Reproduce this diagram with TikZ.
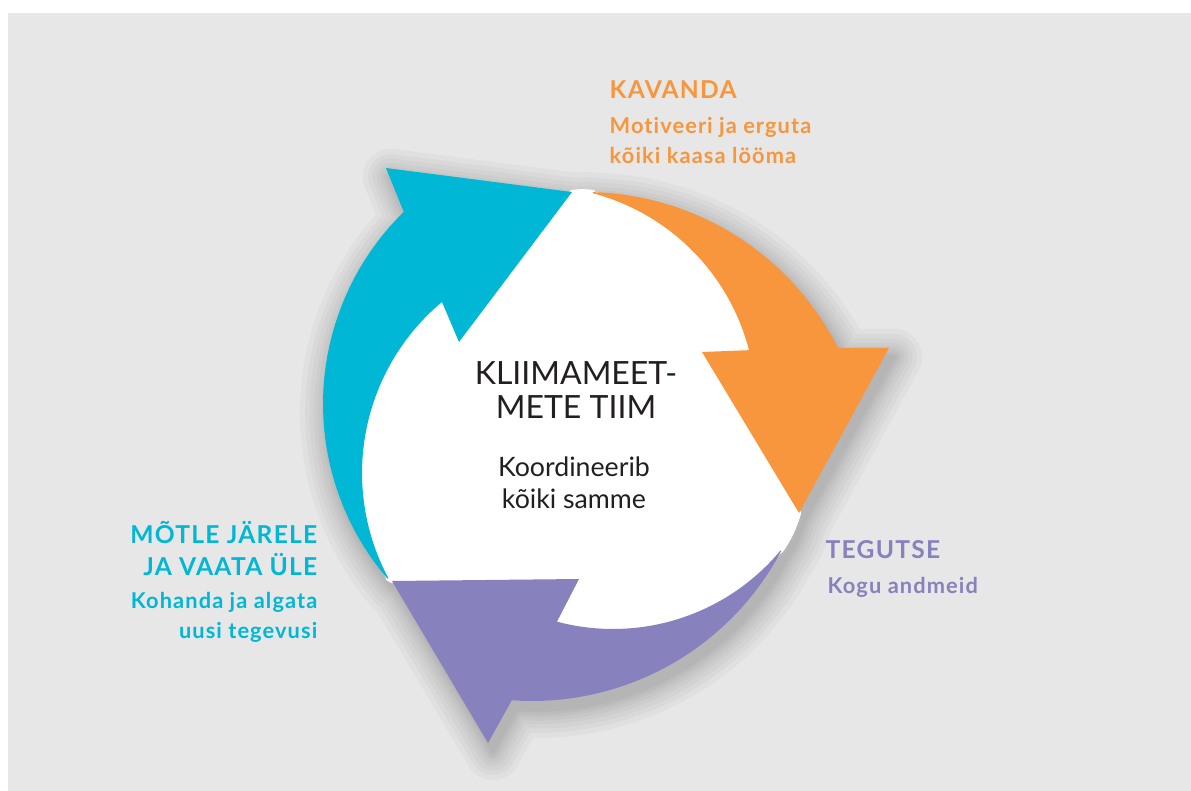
\documentclass[tikz,border=0pt]{standalone}
\usepackage{fontspec}
\setmainfont{Lato}
\newfontfamily\steplabelfont{Lato}[LetterSpace=5, Ligatures=NoCommon]
\newfontfamily\stepnotefont{Lato}[LetterSpace=5, Ligatures=NoCommon]
\usetikzlibrary{positioning}

\definecolor{bgGray}{RGB}{231,231,231}
\definecolor{cycleCyan}{RGB}{0,183,214}
\definecolor{cycleOrange}{RGB}{247,150,61}
\definecolor{cyclePurple}{RGB}{135,129,189}
\definecolor{inkDark}{RGB}{35,31,32}

% the three arrows and the white middle, in pixel units (y downwards)
\newcommand{\cyanarrow}{plot[domain=139.5:225.6, samples=40] ({592+269*cos(\x)}, {404+269*sin(\x)})
  -- (386,168) -- (572,192) -- (459,342)
  -- plot[domain=230.1:151.9, samples=40] ({585+223*cos(\x)}, {473+223*sin(\x)}) -- cycle}
\newcommand{\orangearrow}{plot[domain=271.6:333.3, samples=40] ({585+283*cos(\x)}, {475+283*sin(\x)})
  -- (889,348) -- (799,513) -- (702,352)
  -- plot[domain=345.5:284.7, samples=40] ({537+219*cos(\x)}, {405+219*sin(\x)}) -- cycle}
\newcommand{\purplearrow}{plot[domain=27.9:94.1, samples=40] ({532+282*cos(\x)}, {419+282*sin(\x)})
  -- (488,743) -- (392,581) -- (579,579)
  -- plot[domain=104.9:39.8, samples=40] ({613+218*cos(\x)}, {411+218*sin(\x)}) -- cycle}
\newcommand{\whitecore}{(572,192) .. controls (579,191) and (586,191) .. (593,192)
  -- plot[domain=284.7:345.5, samples=30] ({537+219*cos(\x)}, {405+219*sin(\x)})
  -- (702,352) -- (799,513) .. controls (795,527) and (789,540) .. (781,551)
  -- plot[domain=39.8:104.9, samples=30] ({613+218*cos(\x)}, {411+218*sin(\x)})
  -- (579,579) -- (392,581) -- (387.5,578.5)
  -- plot[domain=151.9:230.1, samples=30] ({585+223*cos(\x)}, {473+223*sin(\x)})
  -- (459,342) -- cycle}

\tikzset{
  hub/.style={font=\fontsize{9.1}{9.4}\selectfont, text=inkDark, align=center, inner sep=0pt},
  hubnote/.style={font=\fontsize{7.6}{9.1}\selectfont, text=inkDark, align=center, inner sep=0pt},
  steplabel/.style={font=\steplabelfont\bfseries\fontsize{7}{9.1}\selectfont, inner sep=0pt},
  stepnote/.style={font=\stepnotefont\bfseries\fontsize{6.2}{8.4}\selectfont, inner sep=0pt}
}

\begin{document}
\begin{tikzpicture}[x=0.01cm, y=-0.01cm]
    \useasboundingbox (0,0) rectangle (1191,791);
    \fill[bgGray] (8,13) rectangle (1191,791);

    % soft shadow under the ring
    \foreach \w in {16,13,10.5,8,6,4,2.5,1} {
        \begin{scope}[transparency group, opacity=.028, shift={(5,9)}]
            \filldraw[black, line width=\w pt, line join=round] \whitecore \cyanarrow \orangearrow \purplearrow;
        \end{scope}
    }

    % ring
    \filldraw[white, line width=1.2pt, line join=round] \whitecore;
    \fill[cycleCyan] \cyanarrow;
    \fill[cycleOrange] \orangearrow;
    \fill[cyclePurple] \purplearrow;

    % middle
    \node[hub, anchor=base] (team) at (576,418) {KLIIMAMEET-\\METE TIIM};
    \node[hubnote, anchor=base] (teamtask) at (574,508) {Koordineerib\\kõiki samme};

    % steps
    \node[steplabel, text=cycleOrange, anchor=base west] (plan) at (609,99) {KAVANDA};
    \node[stepnote, text=cycleOrange, anchor=base west, align=left] (plannote) at (609,163) {Motiveeri ja erguta\\kõiki kaasa lööma};
    \node[steplabel, text=cyclePurple, anchor=base west] (act) at (825,558) {TEGUTSE};
    \node[stepnote, text=cyclePurple, anchor=base west] (actnote) at (827,593) {Kogu andmeid};
    \node[steplabel, text=cycleCyan, anchor=base east, align=right] (review) at (318,575) {MÕTLE JÄRELE\\JA VAATA ÜLE};
    \node[stepnote, text=cycleCyan, anchor=base east, align=right] (reviewnote) at (318,638) {Kohanda ja algata\\uusi tegevusi};
\end{tikzpicture}
\end{document}
